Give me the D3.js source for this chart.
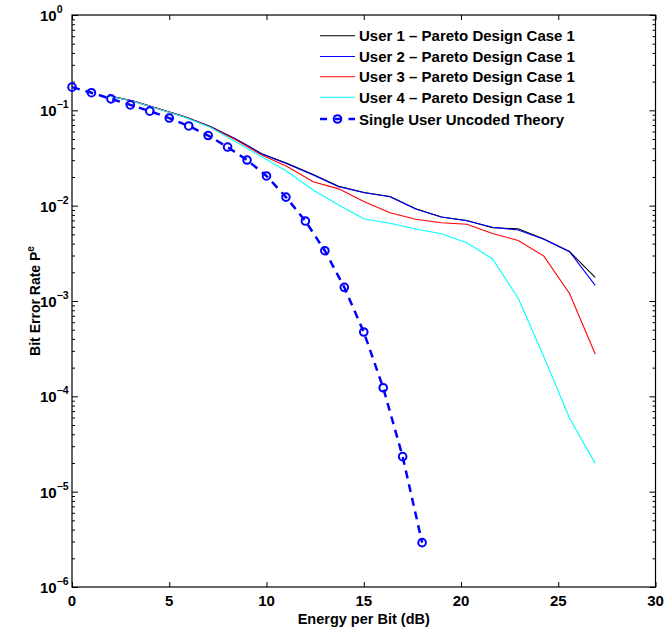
<!DOCTYPE html>
<html>
<head>
<meta charset="utf-8">
<script src="https://cdn.jsdelivr.net/npm/d3@7/dist/d3.min.js"></script>
<style>
  body { margin: 0; background: #fff; }
  svg text { font-family: "Liberation Sans", Arial, Helvetica, sans-serif; font-weight: bold; fill: #000; }
</style>
</head>
<body>
<svg id="chart" width="665" height="630"></svg>
<script>
// Eb/N0 sample points (dB) of the simulated multi-user curves
const userEbN0 = [1.85, 3.17, 4.49, 5.8, 7.12, 8.44, 9.76, 11.08, 12.4, 13.71,
                  15.03, 16.35, 17.67, 18.99, 20.3, 21.62, 22.94, 24.26, 25.58, 26.9];

// Simulated bit error rates per user (Pareto design case 1)
const user1Ber = [0.143, 0.125, 0.1035, 0.0858, 0.0675, 0.0499, 0.0350, 0.0276, 0.0212, 0.0160,
                  0.01375, 0.0125, 0.0093, 0.00762, 0.00698, 0.00586, 0.00573, 0.00446, 0.00330, 0.00177];
const user2Ber = [0.1424, 0.1244, 0.1033, 0.0857, 0.0673, 0.0497, 0.0348, 0.0274, 0.0210, 0.0158,
                  0.01368, 0.0124, 0.00923, 0.0076, 0.00695, 0.00593, 0.00556, 0.00444, 0.00329, 0.00146];
const user3Ber = [0.1424, 0.1242, 0.1030, 0.0852, 0.0668, 0.0488, 0.0339, 0.0256, 0.0178, 0.0150,
                  0.0110, 0.00844, 0.0072, 0.00662, 0.00639, 0.0051, 0.00431, 0.00296, 0.00120, 0.000278];
const user4Ber = [0.1424, 0.1240, 0.1025, 0.0845, 0.0660, 0.0466, 0.0326, 0.0227, 0.0146, 0.01016,
                  0.00724, 0.00653, 0.00569, 0.00508, 0.00409, 0.00276, 0.00107, 0.000260, 0.0000588, 0.0000198];

// Single-user uncoded theory
const theoryEbN0 = [0, 1, 2, 3, 4, 5, 6, 7, 8, 9, 10, 11, 12, 13, 14, 15, 16, 17, 18];
const theoryBer = [0.175, 0.153, 0.132, 0.114, 0.098, 0.083, 0.0686, 0.0544, 0.0412, 0.0301,
                   0.0205, 0.0123, 0.0069, 0.00337, 0.00139, 0.000473, 0.000123, 0.0000233, 0.00000292];

// Axis ticks
const xTicks = [0, 5, 10, 15, 20, 25, 30];
const yExponents = [0, -1, -2, -3, -4, -5, -6];

const legendLabels = [
  "User 1 – Pareto Design Case 1",
  "User 2 – Pareto Design Case 1",
  "User 3 – Pareto Design Case 1",
  "User 4 – Pareto Design Case 1",
  "Single User Uncoded Theory"
];

const userSeries = [
  { name: legendLabels[0], values: user1Ber, color: "#000000" },
  { name: legendLabels[1], values: user2Ber, color: "#0000ff" },
  { name: legendLabels[2], values: user3Ber, color: "#ff0000" },
  { name: legendLabels[3], values: user4Ber, color: "#00ffff" }
];

const svg = d3.select("#chart");
const plotL = 72, plotR = 655.5, plotT = 15, plotB = 587;

const x = d3.scaleLinear().domain([0, 30]).range([plotL, plotR]);
const y = d3.scaleLog().domain([1e-6, 1]).range([plotB, plotT]);

const majorY = yExponents.map(e => Math.pow(10, e));
const minorY = [];
for (let e = -6; e < 0; e++) {
  for (let m = 2; m <= 9; m++) minorY.push(m * Math.pow(10, e));
}

// Inward ticks on all four sides
function drawAxis(axis, tx, ty) {
  const g = svg.append("g").attr("transform", `translate(${tx},${ty})`).call(axis);
  g.select(".domain").remove();
  g.selectAll("line").attr("stroke", "#000").attr("stroke-width", 1);
  g.selectAll("text").remove();
  return g;
}
drawAxis(d3.axisBottom(x).tickValues(xTicks).tickSize(-5).tickSizeOuter(0), 0, plotB);
drawAxis(d3.axisTop(x).tickValues(xTicks).tickSize(-5).tickSizeOuter(0), 0, plotT);
drawAxis(d3.axisLeft(y).tickValues(majorY).tickSize(-6).tickSizeOuter(0), plotL, 0);
drawAxis(d3.axisLeft(y).tickValues(minorY).tickSize(-3).tickSizeOuter(0), plotL, 0);
drawAxis(d3.axisRight(y).tickValues(majorY).tickSize(-6).tickSizeOuter(0), plotR, 0);
drawAxis(d3.axisRight(y).tickValues(minorY).tickSize(-3).tickSizeOuter(0), plotR, 0);

// Box
svg.append("rect")
  .attr("x", plotL).attr("y", plotT)
  .attr("width", plotR - plotL).attr("height", plotB - plotT)
  .attr("fill", "none").attr("stroke", "#000").attr("stroke-width", 1.2);

// X tick labels
svg.append("g").selectAll("text").data(xTicks).join("text")
  .attr("x", d => x(d)).attr("y", plotB + 18.5)
  .attr("text-anchor", "middle").attr("font-size", 15)
  .text(d => d);

// Y tick labels as powers of ten
const yl = svg.append("g").selectAll("text").data(yExponents).join("text")
  .attr("x", 40).attr("y", d => y(Math.pow(10, d)) + 6)
  .attr("font-size", 15);
yl.append("tspan").text("10");
yl.append("tspan").attr("dy", -8).attr("font-size", 10.5)
  .text(d => d === 0 ? "0" : "−" + (-d));

// Axis titles
svg.append("text")
  .attr("x", (plotL + plotR) / 2).attr("y", 623.5)
  .attr("text-anchor", "middle").attr("font-size", 14.5)
  .text("Energy per Bit (dB)");

const yt = svg.append("text")
  .attr("transform", `translate(40,${(plotT + plotB) / 2}) rotate(-90)`)
  .attr("text-anchor", "middle").attr("font-size", 14);
yt.append("tspan").text("Bit Error Rate P");
yt.append("tspan").attr("dy", -6).attr("font-size", 10).text("e");

// Simulated curves
const line = d3.line().x(d => x(d[0])).y(d => y(d[1]));
userSeries.forEach(s => {
  svg.append("path")
    .datum(userEbN0.map((v, i) => [v, s.values[i]]))
    .attr("d", line)
    .attr("fill", "none").attr("stroke", s.color).attr("stroke-width", 1.1);
});

// Theory curve with circle markers
const theoryPts = theoryEbN0.map((v, i) => [v, theoryBer[i]]);
svg.append("path")
  .datum(theoryPts)
  .attr("d", line)
  .attr("fill", "none").attr("stroke", "#0000ff").attr("stroke-width", 2.5)
  .attr("stroke-dasharray", "8,6");
svg.append("g").selectAll("circle").data(theoryPts).join("circle")
  .attr("cx", d => x(d[0])).attr("cy", d => y(d[1])).attr("r", 3.8)
  .attr("fill", "none").attr("stroke", "#0000ff").attr("stroke-width", 2);

// Legend
const legRows = [35.7, 56.5, 76.7, 97.3, 119];
const lg = svg.append("g");
userSeries.forEach((s, i) => {
  lg.append("line")
    .attr("x1", 320).attr("x2", 355).attr("y1", legRows[i]).attr("y2", legRows[i])
    .attr("stroke", s.color).attr("stroke-width", 1.1);
});
lg.append("line")
  .attr("x1", 320).attr("x2", 355).attr("y1", legRows[4]).attr("y2", legRows[4])
  .attr("stroke", "#0000ff").attr("stroke-width", 2.5).attr("stroke-dasharray", "7,7.5,7");
lg.append("circle")
  .attr("cx", 337.5).attr("cy", legRows[4]).attr("r", 3.8)
  .attr("fill", "none").attr("stroke", "#0000ff").attr("stroke-width", 2);
lg.selectAll("text").data(legendLabels).join("text")
  .attr("x", 359).attr("y", (d, i) => legRows[i] + 5.5)
  .attr("font-size", 15)
  .text(d => d);
</script>
</body>
</html>
